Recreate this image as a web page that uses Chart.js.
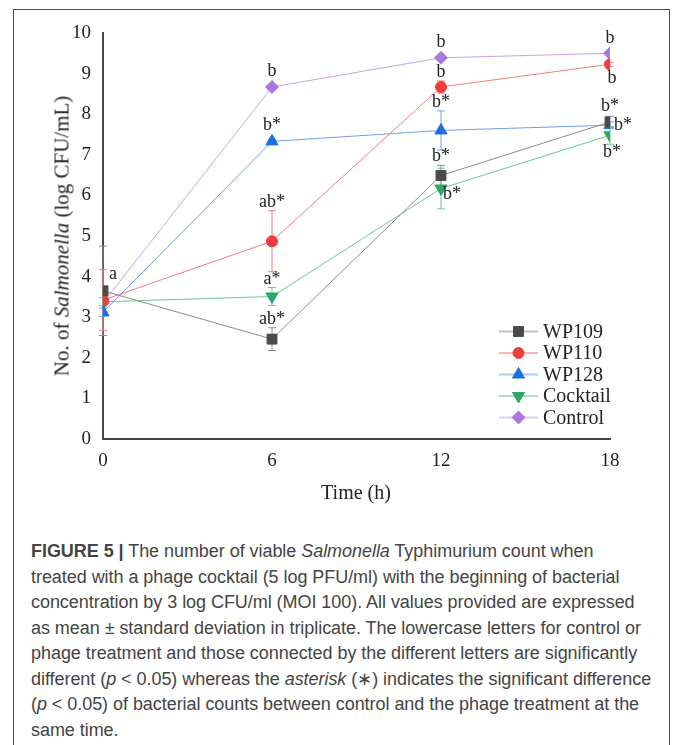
<!DOCTYPE html>
<html>
<head>
<meta charset="utf-8">
<script src="https://cdn.jsdelivr.net/npm/chart.js@4/dist/chart.umd.min.js"></script>
<style>
  html, body { margin: 0; padding: 0; background: #fff; }
  body { width: 673px; height: 745px; position: relative; overflow: hidden; }
  #frame { position: absolute; left: 13px; top: 9px; width: 657px; height: 760px; border: 1px solid #4a4a4a; box-sizing: border-box; }
  #chartWrap { position: absolute; left: 0; top: 0; width: 673px; height: 510px; }
  .ytitle { position: absolute; left: 62px; top: 236px; transform: translate(-50%, -50%) rotate(-90deg);
            font: 21px "Liberation Serif", "Times New Roman", serif; color: #222; white-space: nowrap; }
  .xtitle { position: absolute; left: 356px; top: 492px; transform: translate(-50%, -50%);
            font: 20px "Liberation Serif", "Times New Roman", serif; color: #222; white-space: nowrap; }
  #caption { position: absolute; left: 31px; top: 539px; font: 18px "Liberation Sans", Arial, sans-serif;
             color: #444; line-height: 25.5px; letter-spacing: -0.05px; }
  #caption div { white-space: nowrap; }
</style>
</head>
<body>
<div id="frame"></div>
<div id="chartWrap"><canvas id="chartCanvas" width="673" height="510"></canvas></div>
<div class="ytitle">No. of <i>Salmonella</i> (log CFU/mL)</div>
<div class="xtitle">Time (h)</div>
<div id="caption">
  <div><b>FIGURE 5 |</b> The number of viable <i>Salmonella</i> Typhimurium count when</div>
  <div>treated with a phage cocktail (5 log PFU/ml) with the beginning of bacterial</div>
  <div>concentration by 3 log CFU/ml (MOI 100). All values provided are expressed</div>
  <div>as mean ± standard deviation in triplicate. The lowercase letters for control or</div>
  <div>phage treatment and those connected by the different letters are significantly</div>
  <div>different (<i>p</i> &lt; 0.05) whereas the <i>asterisk</i> (∗) indicates the significant difference</div>
  <div>(<i>p</i> &lt; 0.05) of bacterial counts between control and the phage treatment at the</div>
  <div>same time.</div>
</div>
<script>
// time points (h)
const times = [0, 6, 12, 18];

// means (log CFU/mL) and standard deviations
const wp109    = [3.65, 2.46, 6.49, 7.81];
const wp109Sd  = [1.10, 0.28, 0.25, 0.14];
const wp110    = [3.42, 4.87, 8.67, 9.23];
const wp110Sd  = [0.75, 0.75, 0.15, 0.05];
const wp128    = [3.12, 7.33, 7.60, 7.73];
const wp128Sd  = [0.10, 0.05, 0.48, 0.08];
const cocktail   = [3.38, 3.51, 6.17, 7.48];
const cocktailSd = [0.10, 0.22, 0.50, 0.22];
const control    = [3.35, 8.67, 9.39, 9.50];
const controlSd  = [0, 0, 0, 0];

// significance letters
const wp109Sig    = ['', 'ab*', 'b*', 'b*'];
const wp110Sig    = ['a', 'ab*', 'b', 'b'];
const wp128Sig    = ['', 'b*', 'b*', 'b*'];
const cocktailSig = ['', 'a*', 'b*', 'b*'];
const controlSig  = ['', 'b', 'b', 'b'];

const serif = '"Liberation Serif", "Times New Roman", serif';

const pts = arr => arr.map((v, i) => ({ x: times[i], y: v }));

function serie(label, values, sd, sig, sigPos, line, marker, style, radius, rotation = 0) {
    return {
        label, data: pts(values), sd, sig, sigPos,
        borderColor: line, borderWidth: 1, tension: 0,
        pointStyle: style, pointRadius: radius, pointHoverRadius: radius, pointRotation: rotation,
        pointBackgroundColor: marker, pointBorderColor: marker, pointBorderWidth: 1
    };
}

const datasets = [
    serie('WP109', wp109, wp109Sd, wp109Sig, ['', 'top', 'top', 'top'], '#8c8c8c', '#4a4a4a', 'rect', 7),
    serie('WP110', wp110, wp110Sd, wp110Sig, ['capright', 'top', 'top', 'bottom'], '#f37c7c', '#f23b3b', 'circle', 5.5),
    serie('WP128', wp128, wp128Sd, wp128Sig, ['', 'top', 'top', 'right'], '#6f9fe8', '#1c6fe0', 'triangle', 7),
    serie('Cocktail', cocktail, cocktailSd, cocktailSig, ['', 'top', 'belowright', 'bottom'], '#6cc595', '#2da765', 'triangle', 7, 180),
    serie('Control', control, controlSd, controlSig, ['', 'top', 'top', 'top'], '#c6a2ee', '#a877e0', 'rectRot', 6.5)
];

// error bars, behind the markers
const errorBars = {
    id: 'errorBars',
    beforeDatasetsDraw(chart) {
        const { ctx, scales: { x, y } } = chart;
        ctx.save();
        ctx.lineWidth = 1;
        chart.data.datasets.forEach(ds => {
            ctx.strokeStyle = ds.borderColor;
            ds.data.forEach((p, i) => {
                const s = ds.sd[i];
                if (!s) return;
                const px = x.getPixelForValue(p.x);
                const top = y.getPixelForValue(p.y + s);
                const bot = y.getPixelForValue(p.y - s);
                ctx.beginPath();
                ctx.moveTo(px, top); ctx.lineTo(px, bot);
                ctx.moveTo(px - 4, top); ctx.lineTo(px + 4, top);
                ctx.moveTo(px - 4, bot); ctx.lineTo(px + 4, bot);
                ctx.stroke();
            });
        });
        ctx.restore();
    }
};

// significance letters + legend
const extras = {
    id: 'extras',
    afterDraw(chart) {
        const { ctx, chartArea, scales: { x, y } } = chart;
        ctx.save();
        ctx.fillStyle = '#222';
        ctx.font = '18px ' + serif;
        ctx.textBaseline = 'alphabetic';
        chart.data.datasets.forEach(ds => {
            ds.data.forEach((p, i) => {
                const txt = ds.sig[i];
                if (!txt) return;
                const px = x.getPixelForValue(p.x);
                const py = y.getPixelForValue(p.y);
                const capTop = y.getPixelForValue(p.y + ds.sd[i]);
                const capBot = y.getPixelForValue(p.y - ds.sd[i]);
                const r = ds.pointRadius;
                const pos = ds.sigPos[i];
                if (pos === 'top') {
                    ctx.textAlign = 'center';
                    ctx.fillText(txt, px, Math.min(capTop, py - r) - 4);
                } else if (pos === 'bottom') {
                    ctx.textAlign = 'center';
                    ctx.fillText(txt, px + 2, Math.max(capBot, py + r) + 13);
                } else if (pos === 'right') {
                    ctx.textAlign = 'left';
                    ctx.fillText(txt, px + 4, py + 5);
                } else if (pos === 'belowright') {
                    ctx.textAlign = 'left';
                    ctx.fillText(txt, px + 2, py + 11);
                } else if (pos === 'capright') {
                    ctx.textAlign = 'left';
                    ctx.fillText(txt, px + 6, capTop + 9);
                }
            });
        });

        // legend
        const lx = chartArea.right - 111;
        const ly = chartArea.top + 298.5;
        ctx.font = '20px ' + serif;
        ctx.textAlign = 'left';
        ctx.textBaseline = 'middle';
        chart.data.datasets.forEach((ds, i) => {
            const yy = ly + i * 21.5;
            ctx.save();
            ctx.globalAlpha = 0.55;
            ctx.strokeStyle = ds.borderColor;
            ctx.lineWidth = 2;
            ctx.beginPath();
            ctx.moveTo(lx, yy); ctx.lineTo(lx + 39, yy);
            ctx.stroke();
            ctx.restore();
            ctx.fillStyle = ds.pointBackgroundColor;
            ctx.strokeStyle = ds.pointBorderColor;
            Chart.helpers.drawPoint(ctx, {
                pointStyle: ds.pointStyle, rotation: ds.pointRotation,
                radius: ds.pointRadius, borderWidth: 1
            }, lx + 19.5, yy);
            ctx.fillStyle = '#222';
            ctx.fillText(ds.label, lx + 44, yy + 1);
        });
        ctx.restore();
    }
};

new Chart(document.getElementById('chartCanvas'), {
    type: 'line',
    data: { datasets },
    options: {
        responsive: false,
        animation: false,
        events: [],
        layout: { padding: { left: 0, top: 33, right: 63, bottom: 0 } },
        plugins: { legend: { display: false }, tooltip: { enabled: false } },
        scales: {
            x: {
                type: 'linear', min: 0, max: 18,
                afterFit: s => { s.height = 71; },
                grid: { display: false, drawTicks: false },
                border: { display: true, color: '#444', width: 2 },
                ticks: { stepSize: 6, padding: 11, color: '#222', font: { family: serif, size: 19 } }
            },
            y: {
                min: 0, max: 10,
                afterFit: s => { s.width = 103; },
                grid: { display: false, drawTicks: false },
                border: { display: true, color: '#444', width: 2 },
                ticks: { stepSize: 1, padding: 12, color: '#222', font: { family: serif, size: 19 } }
            }
        }
    },
    plugins: [errorBars, extras]
});
</script>
</body>
</html>
